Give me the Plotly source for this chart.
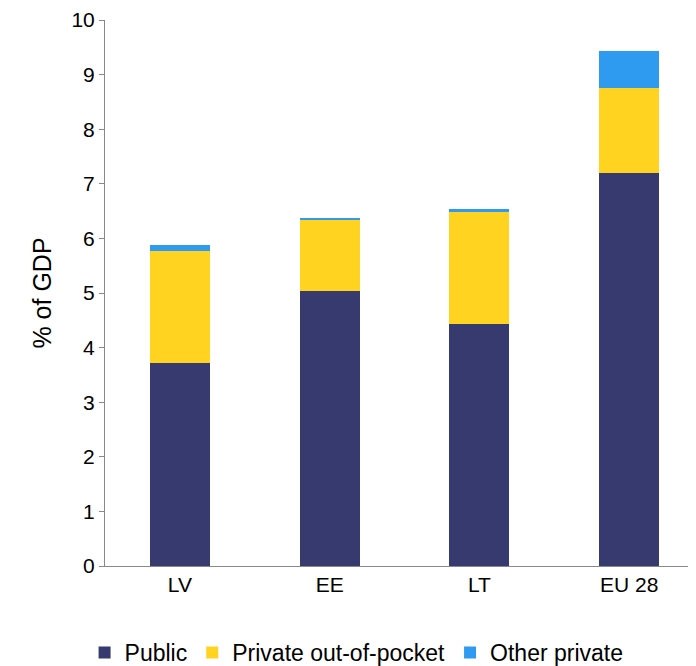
import plotly.graph_objects as go

countries = ['LV', 'EE', 'LT', 'EU 28']
public = [3.72, 5.03, 4.44, 7.19]
out_of_pocket = [2.05, 1.31, 2.04, 1.57]
other_private = [0.11, 0.04, 0.06, 0.68]

fig = go.Figure()
fig.add_trace(go.Bar(x=countries, y=public, name='Public', marker_color='#363A6E'))
fig.add_trace(go.Bar(x=countries, y=out_of_pocket, name='Private out-of-pocket', marker_color='#FFD320'))
fig.add_trace(go.Bar(x=countries, y=other_private, name='Other private', marker_color='#2E9BF0'))
fig.update_traces(marker_line_width=0)

fig.update_layout(
    barmode='stack', bargap=0.6,
    width=696, height=666,
    margin=dict(l=97, r=0, t=12, b=100),
    plot_bgcolor='white', paper_bgcolor='white',
    font=dict(family='Liberation Sans, Arial', size=21, color='black'),
    legend=dict(orientation='h', x=0.42, xanchor='center', y=-0.12, yanchor='top',
                font=dict(size=23), itemwidth=30, traceorder='normal'),
)
fig.update_xaxes(showline=True, linecolor='#888', linewidth=1, ticks='', tickfont=dict(size=21))
fig.update_yaxes(range=[0, 10], dtick=1, showgrid=False, showline=True, linecolor='#888',
                 ticks='outside', tickcolor='#888', ticklen=5, title_text='% of GDP',
                 title_standoff=12, tickfont=dict(size=21), zeroline=False)

fig.write_html("out.html")
